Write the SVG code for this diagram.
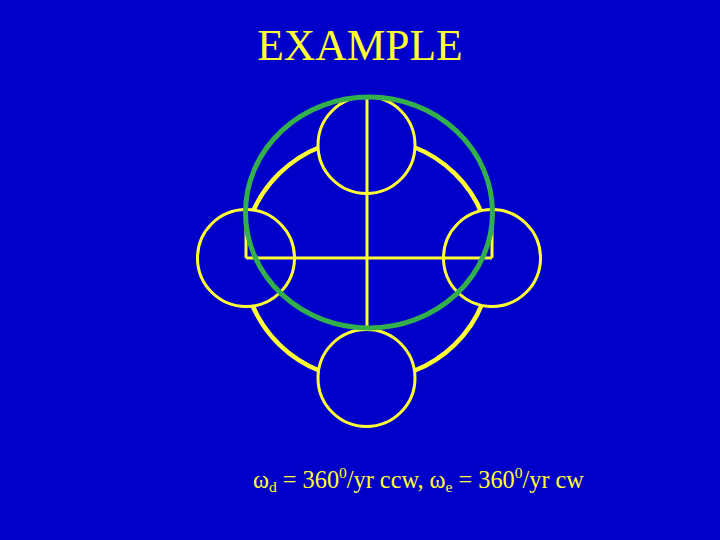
<svg xmlns="http://www.w3.org/2000/svg" width="720" height="540" viewBox="0 0 720 540">
<style>
.y{fill:none;stroke:#ffff33;stroke-width:3}
.ep{fill:#0000c8;stroke:#ffff33;stroke-width:3}
.big{fill:none;stroke:#ffff33;stroke-width:4.5}
.t{font-family:"Liberation Serif","Times New Roman",serif;fill:#ffff33}
</style>
<rect x="0" y="0" width="720" height="540" fill="#0000c8"/>
<text class="t" x="360" y="60" font-size="43.5" text-anchor="middle">EXAMPLE</text>
<g id="deferent"><ellipse class="big" cx="367" cy="259" rx="124" ry="121"/></g>
<g id="epicycle-top"><circle class="ep" cx="366.5" cy="145" r="48.5"/></g>
<g id="epicycle-bottom"><circle class="ep" cx="366.5" cy="378" r="48.5"/></g>
<g id="epicycle-left"><circle class="ep" cx="246" cy="258" r="48.5"/><line class="y" x1="246" y1="210" x2="246" y2="258"/></g>
<g id="epicycle-right"><circle class="ep" cx="492" cy="258" r="48.5"/><line class="y" x1="492" y1="210" x2="492" y2="258"/></g>
<g id="connectors"><line class="y" x1="367" y1="97" x2="367" y2="330"/><line class="y" x1="246" y1="258" x2="492" y2="258"/></g>
<g id="orbit"><ellipse cx="369" cy="212.5" rx="123.5" ry="115.5" fill="none" stroke="#33b04c" stroke-width="5"/></g>
<text class="t" x="253" y="488" font-size="24.3">ω<tspan font-size="15.5" dy="4">d</tspan><tspan dy="-4"> = 360</tspan><tspan font-size="15.5" dy="-10">0</tspan><tspan dy="10">/yr ccw, ω</tspan><tspan font-size="15.5" dy="4">e</tspan><tspan dy="-4"> = 360</tspan><tspan font-size="15.5" dy="-10">0</tspan><tspan dy="10">/yr cw</tspan></text>
</svg>
